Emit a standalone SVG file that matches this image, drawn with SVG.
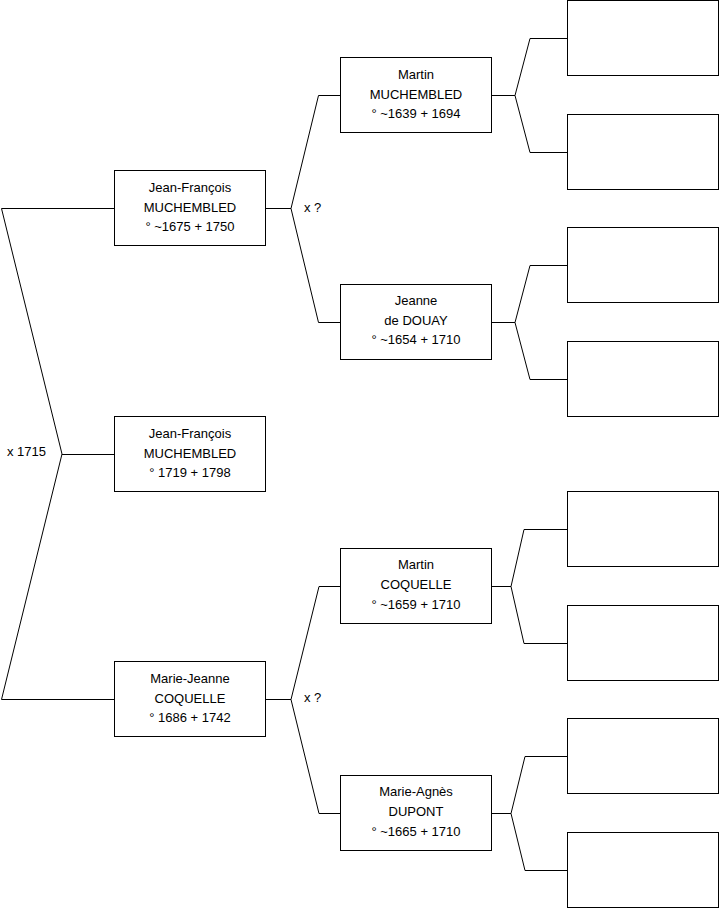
<svg xmlns="http://www.w3.org/2000/svg" width="719" height="908" viewBox="0 0 719 908">
<style>
.box{fill:#fff;stroke:#000;stroke-width:1}
.ln{fill:none;stroke:#000;stroke-width:1}
text{font-family:"Liberation Sans",Arial,sans-serif;font-size:13px;fill:#000}
.c{text-anchor:middle}
</style>
<rect width="719" height="908" fill="#fff"/>
<g id="connectors">
<path class="ln" d="M1.5,208.5H114.5M1.5,208.5L62,454L1.5,699.5M62,454.5H114.5M1.5,699.5H114.5"/>
<path class="ln" d="M265.5,208.5H291M318.5,95.5L291,208.5L318.5,322.5M318.5,95.5H340.5M318.5,322.5H340.5"/>
<path class="ln" d="M265.5,699.5H291M319,586.5L291,699.5L319,813.5M319,586.5H340.5M319,813.5H340.5"/>
<path class="ln" d="M491.5,95.5H515M530,38.5L515,95.5L530,152.5M530,38.5H567.5M530,152.5H567.5"/>
<path class="ln" d="M491.5,322.5H515M530,265.5L515,322.5L530,379.5M530,265.5H567.5M530,379.5H567.5"/>
<path class="ln" d="M491.5,586.5H511M524,529.5L511,586.5L524,643.5M524,529.5H567.5M524,643.5H567.5"/>
<path class="ln" d="M491.5,813.5H511M525,756.5L511,813.5L525,870.5M525,756.5H567.5M525,870.5H567.5"/>
<text x="304" y="212">x ?</text>
<text x="7" y="456">x 1715</text>
<text x="304" y="702">x ?</text>
</g>
<g id="root">
<rect class="box" x="114.5" y="416.5" width="151" height="75"/>
<text class="c" x="190" y="437.5">Jean-François</text>
<text class="c" x="190" y="457.5">MUCHEMBLED</text>
<text class="c" x="190" y="477">° 1719 + 1798</text>
</g>
<g id="father">
<rect class="box" x="114.5" y="170.5" width="151" height="75"/>
<text class="c" x="190" y="191.5">Jean-François</text>
<text class="c" x="190" y="211.5">MUCHEMBLED</text>
<text class="c" x="190" y="231">° ~1675 + 1750</text>
</g>
<g id="mother">
<rect class="box" x="114.5" y="661.5" width="151" height="75"/>
<text class="c" x="190" y="682.5">Marie-Jeanne</text>
<text class="c" x="190" y="702.5">COQUELLE</text>
<text class="c" x="190" y="722">° 1686 + 1742</text>
</g>
<g id="ff">
<rect class="box" x="340.5" y="57.5" width="151" height="75"/>
<text class="c" x="416" y="78.5">Martin</text>
<text class="c" x="416" y="98.5">MUCHEMBLED</text>
<text class="c" x="416" y="118">° ~1639 + 1694</text>
</g>
<g id="fm">
<rect class="box" x="340.5" y="284.5" width="151" height="75"/>
<text class="c" x="416" y="304.5">Jeanne</text>
<text class="c" x="416" y="324.5">de DOUAY</text>
<text class="c" x="416" y="344">° ~1654 + 1710</text>
</g>
<g id="mf">
<rect class="box" x="340.5" y="548.5" width="151" height="75"/>
<text class="c" x="416" y="569">Martin</text>
<text class="c" x="416" y="589">COQUELLE</text>
<text class="c" x="416" y="608.5">° ~1659 + 1710</text>
</g>
<g id="mm">
<rect class="box" x="340.5" y="775.5" width="151" height="75"/>
<text class="c" x="416" y="796">Marie-Agnès</text>
<text class="c" x="416" y="816">DUPONT</text>
<text class="c" x="416" y="835.5">° ~1665 + 1710</text>
</g>
<g id="fff"><rect class="box" x="567.5" y="0.5" width="151" height="75"/></g>
<g id="ffm"><rect class="box" x="567.5" y="114.5" width="151" height="75"/></g>
<g id="fmf"><rect class="box" x="567.5" y="227.5" width="151" height="75"/></g>
<g id="fmm"><rect class="box" x="567.5" y="341.5" width="151" height="75"/></g>
<g id="mff"><rect class="box" x="567.5" y="491.5" width="151" height="75"/></g>
<g id="mfm"><rect class="box" x="567.5" y="605.5" width="151" height="75"/></g>
<g id="mmf"><rect class="box" x="567.5" y="718.5" width="151" height="75"/></g>
<g id="mmm"><rect class="box" x="567.5" y="832.5" width="151" height="75"/></g>
</svg>
